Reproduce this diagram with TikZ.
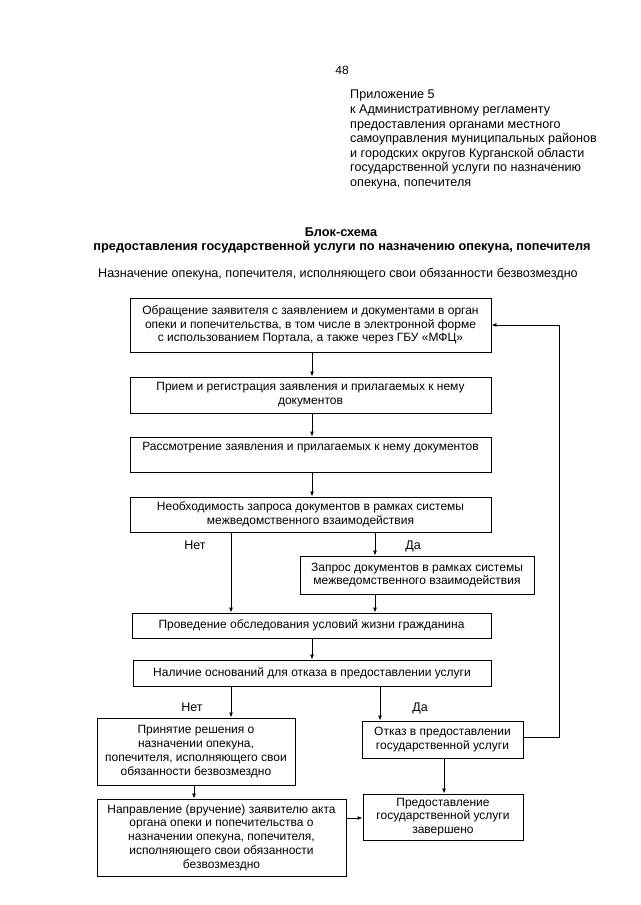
\documentclass[tikz,border=0pt]{standalone}
\usepackage{fontspec}
\setmainfont{Liberation Sans}
\usetikzlibrary{arrows.meta,calc}
\begin{document}
\begin{tikzpicture}[x=1pt,y=-1pt,
 box/.style={draw,line width=0.9pt,align=center,inner sep=1pt,font=\fontsize{12}{13.8}\selectfont},
 arr/.style={draw,line width=0.9pt,-{Latex[length=5pt,width=4pt]}},
 lbl/.style={font=\fontsize{12.5}{14}\selectfont,anchor=base,inner sep=0pt}]
\path[fill=white] (0,0) rectangle (640,905);
% header
\node[lbl,font=\fontsize{12}{14}\selectfont] (pg) at (342,74) {48};
\node[anchor=north west,align=left,inner sep=0pt,font=\fontsize{12.6}{14.6}\selectfont] (app) at (350,90)
 {Приложение 5\\к Административному регламенту\\предоставления органами местного\\самоуправления муниципальных районов\\и городских округов Курганской области\\государственной услуги по назначению\\опекуна, попечителя};
\node[lbl,font=\bfseries\fontsize{12.75}{14}\selectfont] (t1) at (341,236) {Блок-схема};
\node[lbl,font=\bfseries\fontsize{12.75}{14}\selectfont] (t2) at (342,250) {предоставления государственной услуги по назначению опекуна, попечителя};
\node[lbl,font=\fontsize{12.6}{14}\selectfont] (t3) at (338,277) {Назначение опекуна, попечителя, исполняющего свои обязанности безвозмездно};
% boxes
\node[box,minimum width=361pt,minimum height=54pt] (b1) at (310.5,325)
 {Обращение заявителя с заявлением и документами в орган\\опеки и попечительства, в том числе в электронной форме\\с использованием Портала, а также через ГБУ «МФЦ»};
\node[box,minimum width=361pt,minimum height=36pt] (b2) at (310.5,395)
 {Прием и регистрация заявления и прилагаемых к нему\\документов};
\node[box,minimum width=361pt,minimum height=35pt,text depth=15.5pt] (b3) at (310.5,454.5)
 {Рассмотрение заявления и прилагаемых к нему документов};
\node[box,minimum width=361pt,minimum height=35pt] (b4) at (310.5,514.5)
 {Необходимость запроса документов в рамках системы\\межведомственного взаимодействия};
\node[box,minimum width=234pt,minimum height=38pt] (b5) at (417,575)
 {Запрос документов в рамках системы\\межведомственного взаимодействия};
\node[box,minimum width=359pt,minimum height=25pt] (b6) at (311.5,625.5)
 {Проведение обследования условий жизни гражданина};
\node[box,minimum width=358pt,minimum height=26pt] (b7) at (312,673)
 {Наличие оснований для отказа в предоставлении услуги};
\node[box,minimum width=198pt,minimum height=67pt] (b8) at (196,751.5)
 {Принятие решения о\\назначении опекуна,\\попечителя, исполняющего свои\\обязанности безвозмездно};
\node[box,minimum width=161pt,minimum height=37pt] (b9) at (442.5,739.5)
 {Отказ в предоставлении\\государственной услуги};
\node[box,minimum width=160pt,minimum height=46pt] (b10) at (443,817)
 {Предоставление\\государственной услуги\\завершено};
\node[box,minimum width=249pt,minimum height=77pt] (b11) at (221.5,837.5)
 {Направление (вручение) заявителю акта\\органа опеки и попечительства о\\назначении опекуна, попечителя,\\исполняющего свои обязанности\\безвозмездно};
% labels
\node[lbl] (n1) at (195,549) {Нет};
\node[lbl] (d1) at (413,549) {Да};
\node[lbl] (n2) at (192,711) {Нет};
\node[lbl] (d2) at (420,711) {Да};
% helper coordinates
\coordinate (mx) at (312,0);
\coordinate (nx) at (231,0);
\coordinate (dx) at (375,0);
\coordinate (dx2) at (380,0);
\coordinate (ox) at (444,0);
\coordinate (px) at (194,0);
\coordinate (ry) at (0,818);
\coordinate (fb1) at (559,737);
\coordinate (fb2) at (559,325);
% connectors
\draw[arr] (b1.south -| mx) -- (b2.north -| mx);
\draw[arr] (b2.south -| mx) -- (b3.north -| mx);
\draw[arr] (b3.south -| mx) -- (b4.north -| mx);
\draw[arr] (b4.south -| nx) -- (b6.north -| nx);
\draw[arr] (b4.south -| dx) -- (b5.north -| dx);
\draw[arr] (b5.south -| dx) -- (b6.north -| dx);
\draw[arr] (b6.south -| mx) -- (b7.north -| mx);
\draw[arr] (b7.south -| nx) -- (b8.north -| nx);
\draw[arr] (b7.south -| dx2) -- (b9.north -| dx2);
\draw[arr] (b9.south -| ox) -- (b10.north -| ox);
\draw[arr] (b8.south -| px) -- (b11.north -| px);
\draw[arr] (b11.east |- ry) -- (b10.west |- ry);
\draw[arr] (b9.east |- fb1) -- (fb1) -- (fb2) -- (b1.east |- fb2);
\end{tikzpicture}
\end{document}
